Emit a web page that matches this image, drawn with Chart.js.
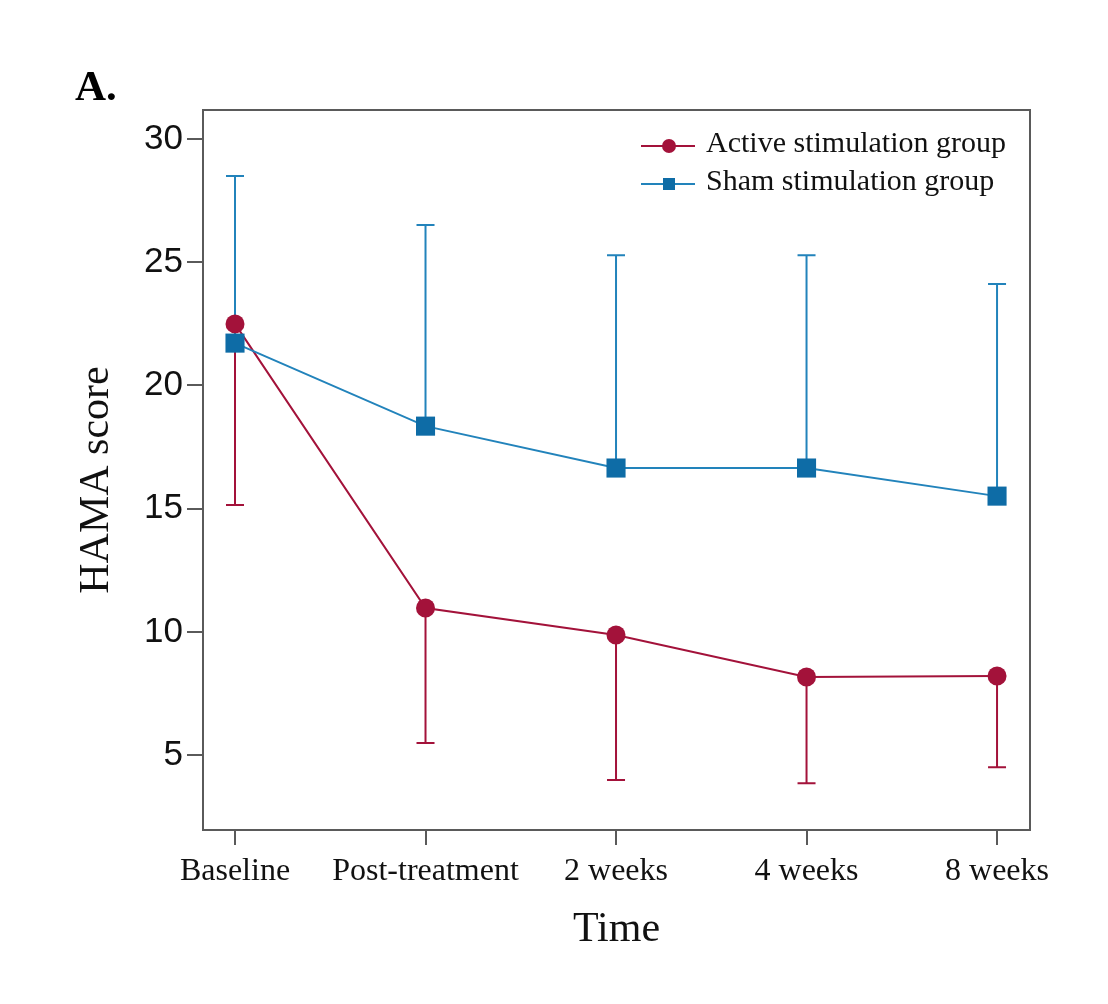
<!DOCTYPE html>
<html>
<head>
<meta charset="utf-8">
<script src="https://cdn.jsdelivr.net/npm/chart.js@4"></script>
<style>
  html, body { margin: 0; padding: 0; background: #fff; }
  #wrap { width: 1108px; height: 1004px; }
</style>
</head>
<body>
<div id="wrap"><canvas id="chart" width="1108" height="1004"></canvas></div>
<script>
const categories = ['Baseline', 'Post-treatment', '2 weeks', '4 weeks', '8 weeks'];
const activeMean = [22.5, 10.97, 9.87, 8.17, 8.21];
const activeLower = [15.15, 5.49, 3.99, 3.86, 4.51];
const shamMean = [21.72, 18.35, 16.65, 16.65, 15.51];
const shamUpper = [28.5, 26.51, 25.29, 25.29, 24.12];
const yTicks = [5, 10, 15, 20, 25, 30];

const RED = '#A3123A';
const BLUE = '#2283BB';
const BLUE_MK = '#0E6CA6';
const AXIS = '#5a5a5a';

const pts = arr => arr.map((v, i) => ({ x: i, y: v }));

// error bars, box, legend, y title and panel letter
const extras = {
  id: 'extras',
  beforeDatasetsDraw(chart) {
    const c = chart.ctx, xs = chart.scales.x, ys = chart.scales.y;
    const bar = (i, from, to, color) => {
      const x = xs.getPixelForValue(i);
      const y1 = ys.getPixelForValue(from), y2 = ys.getPixelForValue(to);
      c.save();
      c.strokeStyle = color;
      c.lineWidth = 2;
      c.beginPath();
      c.moveTo(x, y1); c.lineTo(x, y2);
      c.moveTo(x - 9, y2); c.lineTo(x + 9, y2);
      c.stroke();
      c.restore();
    };
    activeMean.forEach((m, i) => bar(i, m, activeLower[i], RED));
    shamMean.forEach((m, i) => bar(i, m, shamUpper[i], BLUE));
  },
  afterDraw(chart) {
    const c = chart.ctx, a = chart.chartArea;
    c.save();
    c.strokeStyle = AXIS;
    c.lineWidth = 2;
    c.strokeRect(a.left, a.top, a.right - a.left, a.bottom - a.top);

    // legend
    const rows = [
      { label: 'Active stimulation group', color: RED, mk: RED, shape: 'circle' },
      { label: 'Sham stimulation group', color: BLUE, mk: BLUE_MK, shape: 'square' }
    ];
    rows.forEach((r, k) => {
      const y = 146 + k * 38;
      c.strokeStyle = r.color;
      c.lineWidth = 2;
      c.beginPath(); c.moveTo(641, y); c.lineTo(695, y); c.stroke();
      c.fillStyle = r.mk;
      if (r.shape === 'circle') {
        c.beginPath(); c.arc(669, y, 7, 0, Math.PI * 2); c.fill();
      } else {
        c.fillRect(663, y - 6, 12, 12);
      }
      c.fillStyle = '#111';
      c.font = '30px "Liberation Serif"';
      c.textBaseline = 'alphabetic';
      c.textAlign = 'left';
      c.fillText(r.label, 706, y + 6);
    });

    // y axis title
    c.save();
    c.translate(108, 480);
    c.rotate(-Math.PI / 2);
    c.font = '42px "Liberation Serif"';
    c.fillStyle = '#111';
    c.textAlign = 'center';
    c.textBaseline = 'alphabetic';
    c.fillText('HAMA score', 0, 0);
    c.restore();

    c.font = 'bold 43px "Liberation Serif"';
    c.fillStyle = '#000';
    c.textAlign = 'left';
    c.textBaseline = 'alphabetic';
    c.fillText('A.', 75, 100);
    c.restore();
  }
};

const ctx = document.getElementById('chart').getContext('2d');
new Chart(ctx, {
  type: 'line',
  data: {
    datasets: [{
      label: 'Active stimulation group',
      data: pts(activeMean),
      borderColor: RED,
      backgroundColor: RED,
      borderWidth: 2,
      pointStyle: 'circle',
      pointRadius: 9.5,
      pointBorderWidth: 0,
      order: 1
    }, {
      label: 'Sham stimulation group',
      data: pts(shamMean),
      borderColor: BLUE,
      backgroundColor: BLUE_MK,
      pointBackgroundColor: BLUE_MK,
      borderWidth: 2,
      pointStyle: 'rect',
      pointRadius: 13.5,
      pointBorderWidth: 0,
      order: 0
    }]
  },
  options: {
    responsive: false,
    animation: false,
    layout: { padding: { left: 0, top: 110, right: 78, bottom: 0 } },
    plugins: {
      legend: { display: false },
      tooltip: { enabled: false }
    },
    scales: {
      x: {
        type: 'linear',
        min: -0.168,
        max: 4.173,
        afterBuildTicks: s => { s.ticks = categories.map((_, i) => ({ value: i })); },
        afterFit: s => { s.height = 174; },
        grid: { display: true, drawOnChartArea: false, tickLength: 15, color: AXIS, lineWidth: 2 },
        border: { display: true, color: AXIS, width: 2 },
        ticks: {
          callback: v => categories[v],
          color: '#111',
          padding: 7,
          maxRotation: 0,
          font: { family: 'Liberation Serif', size: 32 }
        },
        title: {
          display: true,
          text: 'Time',
          color: '#111',
          font: { family: 'Liberation Serif', size: 42, lineHeight: 1 },
          padding: { top: 0, bottom: 53 }
        }
      },
      y: {
        min: 1.96,
        max: 31.18,
        afterBuildTicks: s => { s.ticks = yTicks.map(v => ({ value: v })); },
        afterFit: s => { s.width = 203; },
        grid: { display: true, drawOnChartArea: false, tickLength: 16, color: AXIS, lineWidth: 2 },
        border: { display: true, color: AXIS, width: 2 },
        ticks: {
          color: '#111',
          padding: 4,
          font: { family: 'Liberation Sans', size: 35 }
        }
      }
    }
  },
  plugins: [extras]
});
</script>
</body>
</html>
